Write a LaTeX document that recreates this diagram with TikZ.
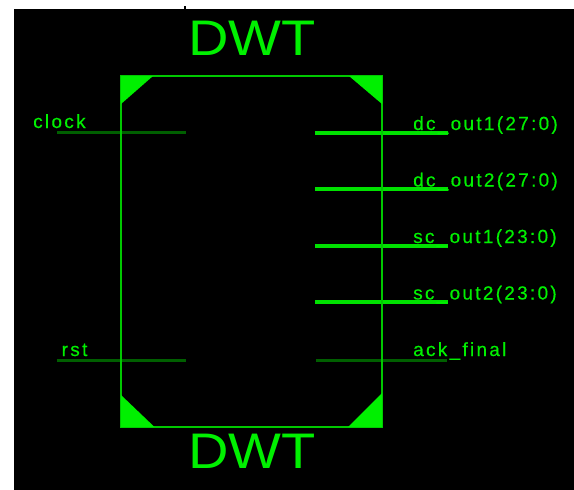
\documentclass[tikz,border=0pt]{standalone}
\usepackage{fontspec}
\setmainfont{Liberation Sans}
\usepackage{graphicx}
\definecolor{txtgreen}{RGB}{0,240,0}
\definecolor{boxgreen}{RGB}{0,200,0}
\definecolor{fillgreen}{RGB}{0,240,0}
\definecolor{dimgreen}{RGB}{0,95,0}
\definecolor{busgreen}{RGB}{0,225,0}
\tikzset{
  lbl/.style={inner sep=0pt, anchor=base west, text=txtgreen,
    font=\fontsize{19}{21}\selectfont\addfontfeature{LetterSpace=12,FakeBold=0.4}},
  title/.style={inner sep=0pt, anchor=base, text=txtgreen,
    font=\fontsize{50}{55}\selectfont},
  blockbox/.style={draw=boxgreen, line width=1.5pt},
  corner/.style={fill=fillgreen},
  wire/.style={draw=dimgreen, line width=3pt},
  bus/.style={draw=busgreen, line width=4pt},
}
\begin{document}
\begin{tikzpicture}[x=1pt,y=-1pt]
\useasboundingbox (0,0) rectangle (574,490);
\fill[white] (0,0) rectangle (574,490);
\fill[black] (14,9) rectangle (574,490);
\fill[black] (184,6) rectangle (186,9);

% titles
\node[title] (ttop) at (252.3,55.7) {\scalebox{1.12}[1]{DWT}};
\node[title] (tbot) at (252.3,468.3) {\scalebox{1.12}[1]{DWT}};

% pins (drawn first, box over them)
\coordinate (clkA) at (57,132);  \coordinate (clkB) at (186,132);
\coordinate (rstA) at (57,360);  \coordinate (rstB) at (186,360);
\coordinate (o1A) at (315,132.5); \coordinate (o1B) at (448,132.5);
\coordinate (o2A) at (315,189);   \coordinate (o2B) at (448,189);
\coordinate (o3A) at (315,246);   \coordinate (o3B) at (448,246);
\coordinate (o4A) at (315,302);   \coordinate (o4B) at (448,302);
\coordinate (akA) at (316,360);   \coordinate (akB) at (447,360);
\draw[wire] (clkA) -- (clkB);
\draw[wire] (rstA) -- (rstB);
\draw[bus] (o1A) -- (o1B);
\draw[bus] (o2A) -- (o2B);
\draw[bus] (o3A) -- (o3B);
\draw[bus] (o4A) -- (o4B);
\draw[wire] (akA) -- (akB);

% block
\coordinate (tl) at (121,76); \coordinate (tr) at (382,76);
\coordinate (bl) at (121,427); \coordinate (br) at (382,427);
\draw[blockbox] (tl) rectangle (br);
\fill[corner] (tl) -- (153,76) -- (121,104) -- cycle;
\fill[corner] (tr) -- (349,76) -- (382,104) -- cycle;
\fill[corner] (bl) -- (121,395) -- (154.5,427) -- cycle;
\fill[corner] (br) -- (348,427) -- (382,393) -- cycle;

% labels
\node[lbl] (lclk) at (33,128) {clock};
\node[lbl] (lrst) at (61.5,356) {rst};
\node[lbl] (l1) at (413,130) {dc\_out1(27:0)};
\node[lbl] (l2) at (413,186.5) {dc\_out2(27:0)};
\node[lbl] (l3) at (413,243) {sc\_out1(23:0)};
\node[lbl] (l4) at (413,299.5) {sc\_out2(23:0)};
\node[lbl] (l5) at (413,356) {ack\_final};
\end{tikzpicture}
\end{document}
